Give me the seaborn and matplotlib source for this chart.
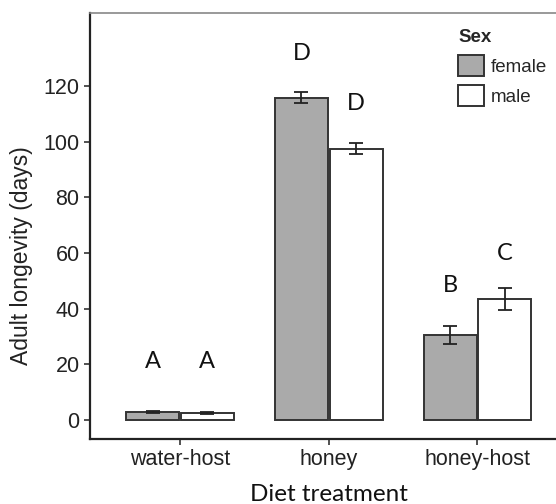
import matplotlib
matplotlib.use('Agg')
import matplotlib.pyplot as plt
import pandas as pd
import seaborn as sns

# Data
diets = ['water-host', 'honey', 'honey-host']
sexes = ['female', 'male']
female_mean = [2.9, 115.7, 30.5]
male_mean = [2.6, 97.4, 43.5]
female_se = [0.5, 2.0, 3.2]
male_se = [0.4, 2.0, 4.0]
female_letters = ['A', 'D', 'B']
male_letters = ['A', 'D', 'C']

df = pd.DataFrame({
    'diet': diets * 2,
    'sex': ['female'] * 3 + ['male'] * 3,
    'longevity': female_mean + male_mean,
    'se': female_se + male_se,
    'letter': female_letters + male_letters,
})

sns.set_style('white')
plt.rcParams['font.family'] = ['Liberation Sans', 'DejaVu Sans']

fig = plt.figure(figsize=(5.56, 5.04), dpi=100)
ax = fig.add_axes([90 / 556, 65 / 504, 466 / 556, 426 / 504])

sns.barplot(data=df, x='diet', y='longevity', hue='sex', order=diets,
            hue_order=sexes, palette={'female': '#aaaaaa', 'male': 'white'},
            errorbar=None, width=0.735, gap=0.03, edgecolor='#333333',
            linewidth=1.4, ax=ax)

# error bars and significance letters on top of each bar
letter_y = {'female': [21.2, 131.7, 48.5], 'male': [21.2, 113.7, 60]}
for cont, sex in zip(ax.containers, sexes):
    sub = df[df['sex'] == sex].set_index('diet').loc[diets]
    xs = [b.get_x() + b.get_width() / 2 for b in cont]
    ax.errorbar(xs, sub['longevity'], yerr=sub['se'], fmt='none',
                ecolor='#222222', elinewidth=1.3, capsize=5, capthick=1.3)
    for x, lab, y in zip(xs, sub['letter'], letter_y[sex]):
        ax.text(x, y, lab, ha='center', va='center', fontsize=17,
                color='#111111', family=['Lato', 'DejaVu Sans'])

ax.set_xlim(-0.605, 2.528)
ax.set_ylim(-6.8, 146.2)
ax.set_yticks([0, 20, 40, 60, 80, 100, 120])

ax.set_xlabel('Diet treatment', fontsize=17.5, color='#111111',
              family=['Lato', 'DejaVu Sans'])
ax.set_ylabel('Adult longevity (days)', fontsize=16.5, color='#222222')
ax.xaxis.set_label_coords(0.513, -0.105)
ax.yaxis.set_label_coords(-0.122, 0.43)
ax.tick_params(axis='both', labelsize=15.5, labelcolor='#222222',
               direction='out', length=4, width=1.2, color='#333333',
               bottom=True, left=True)

for s in ['left', 'bottom']:
    ax.spines[s].set_color('#222222')
    ax.spines[s].set_linewidth(1.6)
ax.spines['top'].set_color('#888888')
ax.spines['top'].set_linewidth(1.2)
ax.spines['right'].set_visible(False)

leg = ax.legend(title='Sex', loc='upper left', bbox_to_anchor=(445 / 556, 1 - 16 / 504),
                bbox_transform=fig.transFigure, frameon=False, fontsize=13.5,
                handlelength=1.4, handleheight=1.4, handletextpad=0.35,
                labelspacing=0.45, borderpad=0.2)
leg.get_title().set_fontweight('bold')
leg.get_title().set_fontsize(13.5)
leg._legend_box.align = 'left'

fig.savefig('out.png', dpi=100)
